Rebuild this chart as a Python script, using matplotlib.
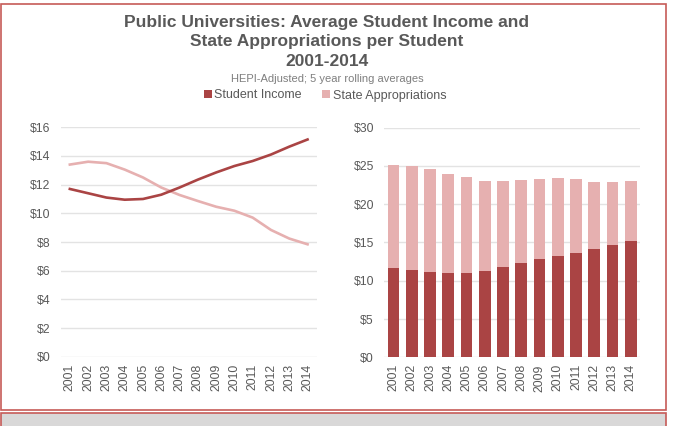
import matplotlib
matplotlib.use("Agg")
import matplotlib.pyplot as plt
from matplotlib.patches import Rectangle, Patch
import numpy as np

plt.rcParams['font.family'] = ['Liberation Sans', 'DejaVu Sans']

years = ['2001', '2002', '2003', '2004', '2005', '2006', '2007',
         '2008', '2009', '2010', '2011', '2012', '2013', '2014']
student_income = [11.70, 11.40, 11.10, 10.95, 11.00, 11.30, 11.80,
                  12.35, 12.85, 13.30, 13.65, 14.10, 14.65, 15.15]
state_appropriations = [13.40, 13.60, 13.50, 13.05, 12.50, 11.80, 11.28,
                        10.86, 10.46, 10.18, 9.70, 8.84, 8.24, 7.84]
left_ticks = [0, 2, 4, 6, 8, 10, 12, 14, 16]
right_ticks = [0, 5, 10, 15, 20, 25, 30]

DARK = '#AA4444'
LIGHT = '#E6B0B0'
TEXT = '#595959'
GRID = '#E3E3E3'
FRAME = '#C65B58'

W, H = 673, 426
fig = plt.figure(figsize=(W / 100, H / 100), dpi=100)


def fx(px):
    return px / W


def fy(py):
    return 1 - py / H


# Outer frame and the grey strip underneath
fig.patches.append(Rectangle((fx(1), fy(409.5)), fx(665) - fx(0), (409.5 - 4) / H,
                             transform=fig.transFigure, fill=False,
                             edgecolor=FRAME, linewidth=1.2, zorder=0))
fig.patches.append(Rectangle((fx(1), fy(440)), fx(665) - fx(0), (440 - 412.5) / H,
                             transform=fig.transFigure, facecolor='#D9D8D8',
                             edgecolor=FRAME, linewidth=1.2, zorder=0))

# Titles
cx = fx(327)
fig.text(cx, fy(22.5), 'Public Universities: Average Student Income and',
         ha='center', va='center', fontsize=12.5, fontweight='bold', color=TEXT)
fig.text(cx, fy(41.7), 'State Appropriations per Student',
         ha='center', va='center', fontsize=12.5, fontweight='bold', color=TEXT)
fig.text(cx, fy(61.5), '2001-2014',
         ha='center', va='center', fontsize=12.5, fontweight='bold', color=TEXT)
fig.text(cx, fy(78.5), 'HEPI-Adjusted; 5 year rolling averages',
         ha='center', va='center', fontsize=8, color='#7F7F7F')

handles = [Patch(facecolor=DARK, edgecolor='none', label='Student Income'),
           Patch(facecolor=LIGHT, edgecolor='none', label='State Appropriations')]
fig.legend(handles=handles, loc='center', bbox_to_anchor=(fx(325), fy(95.5)),
           ncol=2, frameon=False, fontsize=9, handlelength=0.66,
           handleheight=0.66, handletextpad=0.2, columnspacing=1.6,
           labelcolor=TEXT, borderpad=0, borderaxespad=0)

x = np.arange(len(years))


def style_axes(ax, ticks):
    ax.set_xlim(-0.5, len(years) - 0.5)
    ax.set_ylim(ticks[0], ticks[-1])
    ax.set_yticks(ticks)
    ax.set_yticklabels(['$%d' % t for t in ticks])
    ax.set_xticks(x)
    ax.set_xticklabels(years, rotation=90)
    for s in ax.spines.values():
        s.set_visible(False)
    ax.tick_params(axis='both', length=0, labelsize=8.8, labelcolor=TEXT)
    ax.tick_params(axis='y', pad=7.5)
    ax.tick_params(axis='x', pad=5)
    ax.yaxis.grid(True, color=GRID, linewidth=1.0)
    ax.set_axisbelow(True)
    ax.patch.set_alpha(0)


# Left: line chart
ax1 = fig.add_axes([fx(60.7), fy(356.7), fx(316.7) - fx(60.7), (356.7 - 127.3) / H])
style_axes(ax1, left_ticks)
ax1.plot(x, state_appropriations, color=LIGHT, linewidth=1.9, clip_on=False)
ax1.plot(x, student_income, color=DARK, linewidth=1.9, clip_on=False)

# Right: stacked bars
ax2 = fig.add_axes([fx(384.3), fy(357.3), fx(640) - fx(384.3), (357.3 - 127.7) / H])
style_axes(ax2, right_ticks)
ax2.bar(x, student_income, width=0.64, color=DARK)
ax2.bar(x, state_appropriations, width=0.64, bottom=student_income, color=LIGHT)

fig.savefig('out.png', dpi=100)
